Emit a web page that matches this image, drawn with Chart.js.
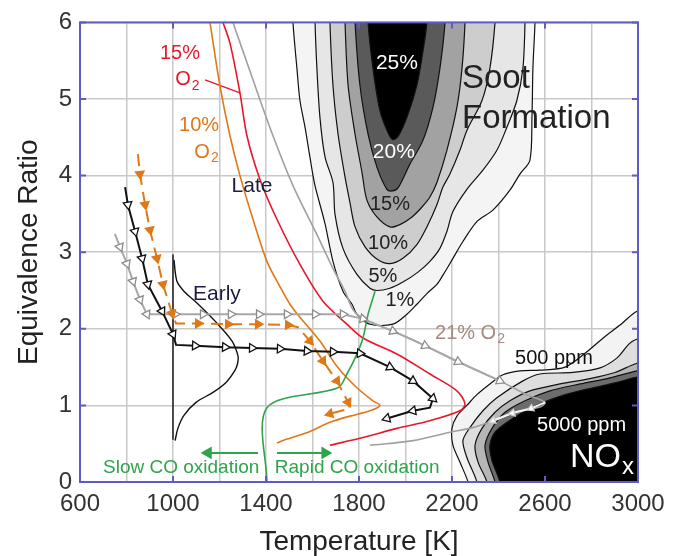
<!DOCTYPE html>
<html lang="en">
<head>
  <meta charset="UTF-8" />
  <title>Soot and NOx formation map</title>
  <script src="https://cdn.jsdelivr.net/npm/chart.js"></script>
  <style>
    body { margin: 0; background: #fff; }
  </style>
</head>
<body>
  <canvas id="phiT" width="687" height="556"></canvas>

  <script>
    // [temperature K, equivalence ratio] pairs
    const soot1 = [[1516,6.3],[1516,6.0],[1533,5.40],[1546,4.98],[1568,4.63],[1589,4.24],[1610,3.88],[1654,3.37],[1688,2.88],[1731,2.49],[1770,2.32],[1791,2.19],[1847,2.06],[1946,2.06],[2006,2.19],[2049,2.32],[2092,2.46],[2135,2.58],[2161,2.70],[2183,2.81],[2204,2.92],[2247,3.14],[2307,3.40],[2376,3.55],[2449,3.81],[2492,4.02],[2535,4.20],[2544,4.76],[2548,5.40],[2557,6.0],[2557,6.3]];
    const soot5 = [[1611,6.3],[1611,6.0],[1619,5.40],[1632,4.76],[1654,4.24],[1688,3.91],[1697,3.49],[1731,3.05],[1791,2.71],[1847,2.53],[1877,2.50],[1933,2.53],[1989,2.61],[2054,2.74],[2105,2.88],[2148,3.05],[2178,3.27],[2204,3.53],[2264,3.82],[2333,4.07],[2393,4.33],[2436,4.63],[2479,4.98],[2505,5.40],[2514,6.0],[2514,6.3]];
    const soot10 = [[1675,6.3],[1675,6.0],[1688,5.18],[1710,4.54],[1740,3.98],[1761,3.65],[1783,3.33],[1826,3.07],[1882,2.90],[1933,2.85],[1989,2.92],[2049,3.10],[2092,3.33],[2135,3.62],[2161,3.85],[2191,4.02],[2234,4.33],[2264,4.59],[2329,4.98],[2363,5.40],[2385,6.0],[2385,6.3]];
    const soot15 = [[1740,6.3],[1740,6.0],[1753,5.18],[1783,4.54],[1813,4.04],[1834,3.68],[1877,3.46],[1933,3.33],[1976,3.36],[2028,3.46],[2071,3.59],[2105,3.72],[2135,3.91],[2178,4.33],[2221,4.89],[2243,5.40],[2256,6.0],[2256,6.3]];
    const soot20 = [[1783,6.3],[1783,6.0],[1804,5.18],[1839,4.54],[1877,4.11],[1920,3.82],[1942,3.80],[1968,3.84],[2019,4.15],[2075,4.46],[2118,4.89],[2148,5.40],[2170,6.0],[2170,6.3]];
    const soot25 = [[1839,6.3],[1839,6.0],[1860,5.40],[1890,4.85],[1925,4.56],[1946,4.47],[1968,4.51],[2006,4.76],[2049,5.18],[2075,5.62],[2092,6.0],[2092,6.3]];

    const nox1 = [[2290,-0.3],[2269,0],[2234,0.26],[2204,0.48],[2200,0.70],[2221,0.86],[2264,1.00],[2307,1.14],[2363,1.28],[2419,1.40],[2492,1.45],[2578,1.46],[2686,1.50],[2772,1.68],[2858,1.90],[2931,2.07],[2996,2.23],[3100,2.3],[3100,-0.3]];
    const nox2 = [[2320,-0.3],[2307,0],[2264,0.32],[2247,0.54],[2277,0.71],[2333,0.93],[2393,1.10],[2505,1.32],[2578,1.41],[2720,1.43],[2837,1.49],[2910,1.62],[2978,1.84],[3100,1.9],[3100,-0.3]];
    const nox3 = [[2365,-0.3],[2350,0],[2312,0.26],[2299,0.48],[2329,0.70],[2385,0.91],[2449,1.06],[2535,1.19],[2664,1.28],[2793,1.35],[2901,1.43],[2996,1.55],[3100,1.6],[3100,-0.3]];
    const nox4 = [[2400,-0.3],[2385,0],[2355,0.26],[2342,0.48],[2372,0.70],[2428,0.91],[2514,1.06],[2621,1.19],[2751,1.28],[2880,1.36],[2996,1.45],[3100,1.5],[3100,-0.3]];
    const nox5 = [[2420,-0.3],[2406,0],[2372,0.28],[2363,0.48],[2385,0.65],[2437,0.78],[2505,0.91],[2578,1.02],[2677,1.13],[2793,1.22],[2910,1.30],[2996,1.37],[3100,1.4],[3100,-0.3]];

    const o2_21 = [[1258,6.0],[1344,5.25],[1430,4.52],[1516,3.87],[1619,3.23],[1688,2.79],[1740,2.49],[1774,2.25],[1817,2.13],[1946,1.97],[2084,1.78],[2226,1.57],[2406,1.32],[2522,1.14],[2600,1.04],[2578,0.98],[2479,0.92],[2376,0.80],[2290,0.71],[2191,0.65],[2032,0.54],[1847,0.48]];
    const o2_15 = [[1215,6.0],[1245,5.73],[1288,5.08],[1318,4.52],[1374,3.95],[1447,3.43],[1546,2.84],[1645,2.36],[1748,2.06],[1817,1.88],[1963,1.67],[2105,1.41],[2221,1.19],[2256,1.02],[2234,0.93],[2105,0.80],[1963,0.70],[1817,0.58],[1675,0.48]];
    const o2_10 = [[1159,6.0],[1202,5.17],[1245,4.52],[1288,4.00],[1344,3.43],[1404,2.88],[1460,2.55],[1503,2.32],[1546,2.15],[1632,1.84],[1710,1.49],[1791,1.23],[1860,1.06],[1890,1.00],[1847,0.93],[1761,0.86],[1675,0.78],[1589,0.66],[1490,0.56],[1447,0.51]];
    const o2Leader = [[1138,5.25],[1288,5.08]];

    const pathGray = [[750,3.24],[772,3.07],[802,2.85],[828,2.62],[858,2.38],[888,2.19],[1009,2.19],[1129,2.19],[1249,2.19],[1370,2.19],[1490,2.19],[1611,2.19],[1731,2.19],[1817,2.13],[1946,1.97],[2084,1.78],[2226,1.57],[2406,1.32]];
    const pathGrayBack = [[2600,1.04],[2540,0.96],[2460,0.90],[2376,0.80]];
    const pathOrange = [[849,4.28],[858,4.02],[880,3.62],[901,3.29],[931,2.92],[957,2.58],[996,2.20],[1013,2.07],[1108,2.07],[1237,2.06],[1366,2.06],[1495,2.05],[1538,2.02],[1589,1.84],[1645,1.58],[1705,1.32],[1753,1.04],[1761,0.96],[1675,0.89]];
    const pathBlack = [[794,3.85],[806,3.62],[837,3.27],[867,2.92],[892,2.58],[953,2.23],[1000,1.93],[1013,1.79],[1095,1.78],[1224,1.76],[1340,1.75],[1460,1.74],[1576,1.71],[1688,1.70],[1804,1.68],[1933,1.50],[2032,1.32],[2118,1.09],[2105,0.97],[2032,0.93],[1920,0.83]];

    const earlyLine = [[1000,2.97],[1000,0.55]];
    const earlyDist = [[1004,2.90],[1017,2.62],[1050,2.48],[1095,2.36],[1181,2.10],[1254,1.84],[1280,1.64],[1278,1.55],[1267,1.46],[1228,1.30],[1172,1.17],[1099,1.04],[1047,0.87],[1021,0.70],[1009,0.54]];

    const coBoundary = [[1404,0],[1404,0.97],[1710,1.23],[1748,1.41],[1791,1.67],[1817,1.88],[1839,2.19],[1869,2.49]];
    const slowArrow = [[1366,0.38],[1151,0.38]];
    const rapidArrow = [[1447,0.38],[1654,0.38]];

    const tempTicks = [600, 1000, 1400, 1800, 2200, 2600, 3000];
    const phiTicks = [0, 1, 2, 3, 4, 5, 6];

    const FONT = 'Arial, "Liberation Sans", Helvetica, sans-serif';
    const RED = '#e8182a', ORANGE = '#e07818', GRAY = '#a0a0a0', GREEN = '#2ea44c', FRAME = '#5c5cc4';

    const pts = a => a.map(([x, y]) => ({ x, y }));

    function region(data, color, order) {
      return { data: pts(data), fill: 'shape', backgroundColor: color, borderColor: '#111',
               borderWidth: 1.2, pointRadius: 0, tension: 0.3, capBezierPoints: false, order };
    }
    function curve(data, color, width, order) {
      return { data: pts(data), fill: false, borderColor: color, borderWidth: width,
               pointRadius: 0, tension: 0.3, order };
    }

    // arrow head follows the direction of travel into each point
    function heading(c) {
      const d = c.dataset.data, i = c.dataIndex;
      const a = d[Math.max(i - 1, 0)], b = d[i === 0 ? 1 : i];
      const sx = c.chart.scales.x, sy = c.chart.scales.y;
      const dx = sx.getPixelForValue(b.x) - sx.getPixelForValue(a.x);
      const dy = sy.getPixelForValue(b.y) - sy.getPixelForValue(a.y);
      return Math.atan2(dx, -dy) * 180 / Math.PI;
    }
    function arrows(data, line, fillCol, edge, r, skip, order, dash) {
      return { data: pts(data), fill: false, borderColor: line, borderWidth: 2, borderDash: dash || [],
               tension: 0, order, pointStyle: 'triangle', pointRotation: heading,
               pointRadius: c => skip.includes(c.dataIndex) ? 0 : r,
               pointBackgroundColor: fillCol, pointBorderColor: edge, pointBorderWidth: 1.3 };
    }

    const notes = [
      { t: '15%', T: 1030, p: 5.60, c: RED, s: 20 },
      { t: 'O', sub: '2', T: 1060, p: 5.25, c: RED, s: 20 },
      { t: '10%', T: 1112, p: 4.66, c: ORANGE, s: 20 },
      { t: 'O', sub: '2', T: 1142, p: 4.30, c: ORANGE, s: 20 },
      { t: 'Late', T: 1340, p: 3.86, c: '#1c1c3c', s: 21 },
      { t: 'Early', T: 1189, p: 2.45, c: '#1c1c3c', s: 21 },
      { t: '25%', T: 1963, p: 5.47, c: '#fff', s: 21 },
      { t: '20%', T: 1950, p: 4.30, c: '#fff', s: 21 },
      { t: '15%', T: 1933, p: 3.62, c: '#222', s: 20 },
      { t: '10%', T: 1925, p: 3.11, c: '#222', s: 20 },
      { t: '5%', T: 1903, p: 2.68, c: '#222', s: 20 },
      { t: '1%', T: 1976, p: 2.37, c: '#222', s: 20 },
      { t: 'Soot', T: 2243, p: 5.26, c: '#222', s: 33, left: true },
      { t: 'Formation', T: 2243, p: 4.74, c: '#222', s: 33, left: true },
      { t: '21% O', sub: '2', T: 2127, p: 1.94, c: '#a58a80', s: 20, left: true },
      { t: '500 ppm', T: 2471, p: 1.61, c: '#111', s: 20, left: true },
      { t: '5000 ppm', T: 2566, p: 0.74, c: '#fff', s: 20, left: true },
      { t: 'NO', sub: 'x', T: 2707, p: 0.32, c: '#fff', s: 34, left: true },
      { t: 'Slow CO oxidation', T: 699, p: 0.18, c: GREEN, s: 19, left: true },
      { t: 'Rapid CO oxidation', T: 1438, p: 0.18, c: GREEN, s: 19, left: true }
    ];

    const decor = {
      id: 'decor',
      afterDatasetsDraw(chart) {
        const { ctx, chartArea: a, scales: { x, y } } = chart;
        ctx.save();
        ctx.strokeStyle = FRAME;
        ctx.lineWidth = 2;
        ctx.strokeRect(a.left, a.top, a.right - a.left, a.bottom - a.top);
        ctx.beginPath();
        tempTicks.forEach(v => {
          const px = x.getPixelForValue(v);
          ctx.moveTo(px, a.bottom); ctx.lineTo(px, a.bottom - 6);
          ctx.moveTo(px, a.top); ctx.lineTo(px, a.top + 6);
        });
        phiTicks.forEach(v => {
          const py = y.getPixelForValue(v);
          ctx.moveTo(a.left, py); ctx.lineTo(a.left + 6, py);
          ctx.moveTo(a.right, py); ctx.lineTo(a.right - 6, py);
        });
        ctx.stroke();

        ctx.textBaseline = 'middle';
        ctx.textAlign = 'left';
        notes.forEach(n => {
          const px = x.getPixelForValue(n.T), py = y.getPixelForValue(n.p);
          const big = n.s + 'px ' + FONT, small = Math.round(n.s * 0.7) + 'px ' + FONT;
          ctx.font = big;
          const w = ctx.measureText(n.t).width;
          let sw = 0;
          if (n.sub) { ctx.font = small; sw = ctx.measureText(n.sub).width; }
          const x0 = n.left ? px : px - (w + sw) / 2;
          ctx.fillStyle = n.c;
          ctx.font = big;
          ctx.fillText(n.t, x0, py);
          if (n.sub) {
            ctx.font = small;
            ctx.fillText(n.sub, x0 + w + 1, py + n.s * 0.3);
          }
        });
        ctx.restore();
      }
    };

    const datasets = [
      region(soot1, '#f4f4f4', 40),
      region(soot5, '#e6e6e6', 39),
      region(soot10, '#cdcdcd', 38),
      region(soot15, '#a2a2a2', 37),
      region(soot20, '#5a5a5a', 36),
      region(soot25, '#000000', 35),
      region(nox1, '#f3f3f3', 34),
      region(nox2, '#dedede', 33),
      region(nox3, '#b6b6b6', 32),
      region(nox4, '#6c6c6c', 31),
      region(nox5, '#000000', 30),
      curve(o2_21, GRAY, 1.6, 12),
      curve(o2_15, RED, 1.6, 11),
      curve(o2_10, ORANGE, 1.6, 10),
      curve(o2Leader, RED, 1.4, 10),
      curve(earlyLine, '#111', 1.4, 9),
      curve(earlyDist, '#111', 1.4, 9),
      curve(coBoundary, GREEN, 1.6, 8),
      arrows(pathGray, '#a8a8a8', '#fff', '#8c8c8c', 5, [0], 5),
      arrows(pathGrayBack, '#f4f4f4', '#fff', '#cfcfcf', 4, [0], 5),
      arrows(pathOrange, ORANGE, ORANGE, ORANGE, 5, [0, 7, 12, 17], 4, [12, 7]),
      arrows(pathBlack, '#111', '#fff', '#111', 5, [0, 7, 18], 3),
      arrows(slowArrow, GREEN, GREEN, GREEN, 6, [0], 2),
      arrows(rapidArrow, GREEN, GREEN, GREEN, 6, [0], 2)
    ];

    new Chart(document.getElementById('phiT').getContext('2d'), {
      type: 'line',
      data: { datasets },
      options: {
        responsive: false,
        animation: false,
        events: [],
        layout: { padding: { top: 19, right: 49, left: 0, bottom: 0 } },
        plugins: { legend: { display: false }, tooltip: { enabled: false } },
        scales: {
          x: {
            type: 'linear', min: 600, max: 3000,
            afterFit: s => { s.height = 74; },
            ticks: {
              stepSize: 200, autoSkip: false, maxRotation: 0, padding: 8,
              color: '#333', font: { size: 24, family: FONT },
              callback: v => (v - 600) % 400 === 0 ? String(v) : ''
            },
            grid: { color: '#c8c8c8', lineWidth: 1.5, drawTicks: false },
            border: { display: false },
            title: { display: true, text: 'Temperature [K]', color: '#222',
                     font: { size: 28, family: FONT }, padding: { top: 0, bottom: -3 } }
          },
          y: {
            min: 0, max: 6,
            afterFit: s => { s.width = 80; },
            ticks: { stepSize: 1, padding: 8, color: '#333', font: { size: 24, family: FONT } },
            grid: { color: '#c8c8c8', lineWidth: 1.5, drawTicks: false },
            border: { display: false },
            title: { display: true, text: 'Equivalence Ratio', color: '#222',
                     font: { size: 28, family: FONT }, padding: { top: 12, bottom: 0 } }
          }
        }
      },
      plugins: [decor]
    });
  </script>
</body>
</html>
